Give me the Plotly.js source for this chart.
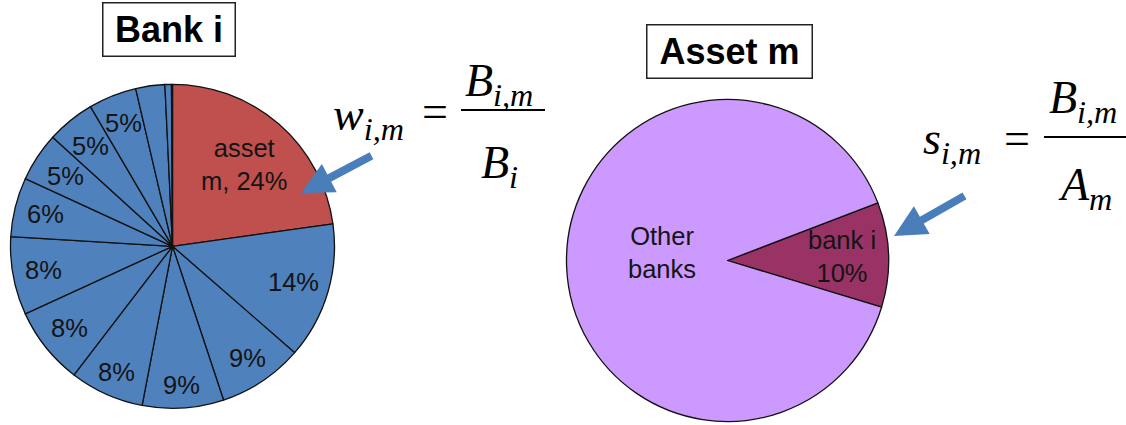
<!DOCTYPE html>
<html><head><meta charset="utf-8">
<script src="https://cdn.plot.ly/plotly-3.0.1.min.js"></script>
<style>html,body{margin:0;padding:0;background:#fff}#chart{width:1126px;height:425px}</style>
</head><body><div id="chart"></div>
<script>
// ---- data ----
const bankSlices = ["asset m","asset a","asset b","asset c","asset d","asset e","asset f","asset g","asset h","asset j","asset k","asset l","asset n","asset o"];
const bankValues = [22.8, 13.6, 8.5, 8.1, 7.4, 7.75, 7.8, 5.9, 4.9, 4.8, 4.8, 2.9, 0.65, 0.1];
const bankText   = ["asset<br>m, 24%","14%","9%","9%","8%","8%","8%","6%","5%","5%","5%","","",""];

const assetSlices = ["bank i","Other banks"];
const assetValues = [10.5, 89.5];
const assetText   = ["bank i<br>10%","Other<br>banks"];

const chartTitles = ["Bank i","Asset m"];
const formulaLeft  = {lhs:"w<sub>i,m</sub>", num:"B<sub>i,m</sub>", den:"B<sub>i</sub>"};
const formulaRight = {lhs:"s<sub>i,m</sub>", num:"B<sub>i,m</sub>", den:"A<sub>m</sub>"};

// ---- layout / style ----
const W = 1126, H = 425;
const px = x => x / W, py = y => 1 - y / H;
const BLUE = "#4f81bd", RED = "#c0504d", LAV = "#cc99ff", MAROON = "#993366";

const pieGeo = [
  {cx:172.5, cy:246.3, r:162, rotation:0,
   labelR:[0.67,0.78,0.83,0.86,0.85,0.81,0.81,0.81,0.79,0.8,0.82,0.8,0.8,0.8], labelDy:[0,0,0,0,0,0,0,0,0,0,0,0,0,0]},
  {cx:727.5, cy:260.5, r:161, rotation:69, labelR:[0.71,0.41], labelDy:[0,-10]}
];

function domainOf(g){
  return {x:[px(g.cx-g.r), px(g.cx+g.r)], y:[py(g.cy+g.r), py(g.cy-g.r)]};
}

const traces = [
  {type:"pie", labels:bankSlices, values:bankValues, sort:false, direction:"clockwise",
   rotation:pieGeo[0].rotation, textinfo:"none", hoverinfo:"skip", showlegend:false,
   marker:{colors:bankValues.map((v,i)=> i===0 ? RED : BLUE), line:{color:"#111", width:1.3}},
   domain:domainOf(pieGeo[0])},
  {type:"pie", labels:assetSlices, values:assetValues, sort:false, direction:"clockwise",
   rotation:pieGeo[1].rotation, textinfo:"none", hoverinfo:"skip", showlegend:false,
   marker:{colors:[MAROON, LAV], line:{color:"#111", width:1.3}},
   domain:domainOf(pieGeo[1])}
];

const annotations = [];
function sliceLabels(values, texts, g){
  const total = values.reduce((a,b)=>a+b,0);
  let cum = 0;
  values.forEach((v,i)=>{
    const a = (g.rotation + (cum + v/2)/total*360) * Math.PI/180;
    cum += v;
    if(!texts[i]) return;
    const f = g.labelR[i];
    annotations.push({xref:"paper", yref:"paper", x:px(g.cx + f*g.r*Math.sin(a)), y:py(g.cy - f*g.r*Math.cos(a) + g.labelDy[i]),
      text:texts[i], showarrow:false, xanchor:"center", yanchor:"middle",
      font:{family:"Liberation Sans, Arial, sans-serif", size:25.5, color:"#141414"}});
  });
}
sliceLabels(bankValues, bankText, pieGeo[0]);
sliceLabels(assetValues, assetText, pieGeo[1]);

// boxed titles
[[chartTitles[0], 168.8, 30, 129], [chartTitles[1], 729.7, 51, 162]].forEach(([t,x,y,w])=>{
  annotations.push({xref:"paper", yref:"paper", x:px(x), y:py(y), xanchor:"center", yanchor:"middle",
    text:"<b>"+t+"</b>", showarrow:false, width:w, height:50, borderpad:1, bordercolor:"#222", borderwidth:1.5,
    font:{family:"Liberation Sans, Arial, sans-serif", size:36, color:"#000"}});
});

// formulas
const serif = {family:"Liberation Serif, Times New Roman, serif", size:46, color:"#000"};
function formula(f, lx, ly, ex, ey, nx, ny, dx, dy){
  annotations.push({xref:"paper", yref:"paper", x:px(lx), y:py(ly), xanchor:"left", yanchor:"middle", showarrow:false, text:"<i>"+f.lhs+"</i>", font:serif});
  annotations.push({xref:"paper", yref:"paper", x:px(ex), y:py(ey), xanchor:"center", yanchor:"middle", showarrow:false, text:"=", font:serif});
  annotations.push({xref:"paper", yref:"paper", x:px(nx), y:py(ny), xanchor:"left", yanchor:"middle", showarrow:false, text:"<i>"+f.num+"</i>", font:serif});
  annotations.push({xref:"paper", yref:"paper", x:px(dx), y:py(dy), xanchor:"left", yanchor:"middle", showarrow:false, text:"<i>"+f.den+"</i>", font:serif});
}
formula(formulaLeft, 331, 118, 435, 111, 463, 84, 479, 166);
formula(formulaRight, 921, 142, 1017, 138, 1047, 101, 1056, 188);

// arrows
[[301,193,373,155],[894,236,966,195]].forEach(([x,y,tx,ty])=>{
  annotations.push({xref:"paper", yref:"paper", x:px(x), y:py(y), ax:tx-x, ay:ty-y, text:"", showarrow:true,
    arrowhead:2, arrowsize:0.8, arrowwidth:8, arrowcolor:"#4a7ebb", standoff:0});
});

const shapes = [
  {type:"line", xref:"paper", yref:"paper", x0:px(461), x1:px(545), y0:py(110), y1:py(110), line:{color:"#000", width:2}},
  {type:"line", xref:"paper", yref:"paper", x0:px(1044), x1:px(1126), y0:py(137), y1:py(137), line:{color:"#000", width:2}}
];

Plotly.newPlot("chart", traces, {
  width:W, height:H, margin:{l:0,r:0,t:0,b:0}, paper_bgcolor:"#fff", plot_bgcolor:"#fff",
  showlegend:false, annotations, shapes
}, {staticPlot:true, displayModeBar:false});
</script>
</body></html>
